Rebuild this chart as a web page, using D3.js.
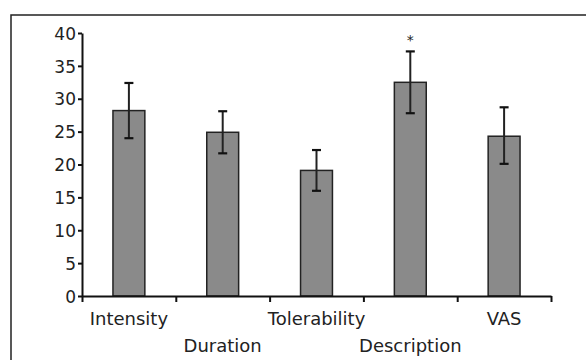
<!DOCTYPE html>
<html>
<head>
<meta charset="utf-8">
<script src="https://cdn.jsdelivr.net/npm/d3@7"></script>
<style>
  body { margin: 0; background: #fff; }
  svg text { font-family: "DejaVu Sans", sans-serif; fill: #222; }
</style>
</head>
<body>
<svg id="canvas" width="586" height="360"></svg>
<script>
// data
const categories = ["Intensity", "Duration", "Tolerability", "Description", "VAS"];
const means = [28.2, 24.9, 19.1, 32.5, 24.3];
const errHigh = [32.4, 28.1, 22.2, 37.2, 28.7];
const errLow = [24.0, 21.7, 16.0, 27.8, 20.1];
const marked = ["Description"];
const yTicks = [0, 5, 10, 15, 20, 25, 30, 35, 40];

let canvas = d3.select("#canvas");

// outer frame (top + left only)
canvas.append("path")
  .attr("d", "M11,360 V15 H586")
  .attr("fill", "none")
  .attr("stroke", "#222")
  .attr("stroke-width", 1.5);

let x = d3.scaleBand().domain(categories).range([82, 551])
  .paddingInner(0.66).paddingOuter(0.33);
let xEdges = d3.scaleLinear().domain([0, categories.length]).range([82, 551]);
let y = d3.scaleLinear().domain([0, 40]).range([296, 33]);

// bars
canvas.selectAll(".bar")
  .data(categories)
  .enter()
  .append("rect")
  .attr("class", "bar")
  .attr("x", (c) => x(c))
  .attr("y", (c, i) => y(means[i]))
  .attr("width", x.bandwidth())
  .attr("height", (c, i) => y(0) - y(means[i]))
  .attr("fill", "#8a8a8a")
  .attr("stroke", "#222")
  .attr("stroke-width", 1.5);

// error bars
let err = canvas.selectAll(".err")
  .data(categories)
  .enter()
  .append("g")
  .attr("class", "err")
  .attr("transform", (c) => "translate(" + (x(c) + x.bandwidth() / 2) + ",0)");
err.append("line")
  .attr("y1", (c, i) => y(errHigh[i]))
  .attr("y2", (c, i) => y(errLow[i]))
  .attr("stroke", "#222").attr("stroke-width", 2);
err.append("line")
  .attr("x1", -4.5).attr("x2", 4.5)
  .attr("y1", (c, i) => y(errHigh[i])).attr("y2", (c, i) => y(errHigh[i]))
  .attr("stroke", "#111").attr("stroke-width", 2.2);
err.append("line")
  .attr("x1", -4.5).attr("x2", 4.5)
  .attr("y1", (c, i) => y(errLow[i])).attr("y2", (c, i) => y(errLow[i]))
  .attr("stroke", "#111").attr("stroke-width", 2.2);

// significance star
canvas.selectAll(".star")
  .data(marked)
  .enter()
  .append("text")
  .attr("class", "star")
  .attr("x", (c) => x(c) + x.bandwidth() / 2)
  .attr("y", (c) => y(errHigh[categories.indexOf(c)]) - 6)
  .attr("text-anchor", "middle")
  .style("font-size", "14px")
  .text("*");

// y axis
let yAxis = canvas.append("g")
  .attr("transform", "translate(82,0)")
  .call(d3.axisLeft(y).tickValues(yTicks).tickSize(4).tickSizeOuter(0).tickPadding(2));
yAxis.select(".domain").attr("stroke", "#111").attr("stroke-width", 2);
yAxis.selectAll(".tick line").attr("stroke", "#111").attr("stroke-width", 2);
yAxis.selectAll(".tick text")
  .style("font-size", "17px")
  .attr("fill", "#222")
  .attr("dy", "0.36em");

// x axis: ticks at category edges
let xAxis = canvas.append("g")
  .attr("transform", "translate(0," + y(0) + ")")
  .call(d3.axisBottom(xEdges).ticks(categories.length).tickFormat("").tickSize(6).tickSizeOuter(0));
xAxis.select(".domain").attr("stroke", "#111").attr("stroke-width", 2);
xAxis.selectAll(".tick line").attr("stroke", "#111").attr("stroke-width", 2);

// staggered category labels
canvas.selectAll(".xlabel")
  .data(categories)
  .enter()
  .append("text")
  .attr("class", "xlabel")
  .attr("x", (c) => x(c) + x.bandwidth() / 2)
  .attr("y", (c, i) => i % 2 === 0 ? 325 : 352)
  .attr("text-anchor", "middle")
  .style("font-size", "18px")
  .text((c) => c);
</script>
</body>
</html>
